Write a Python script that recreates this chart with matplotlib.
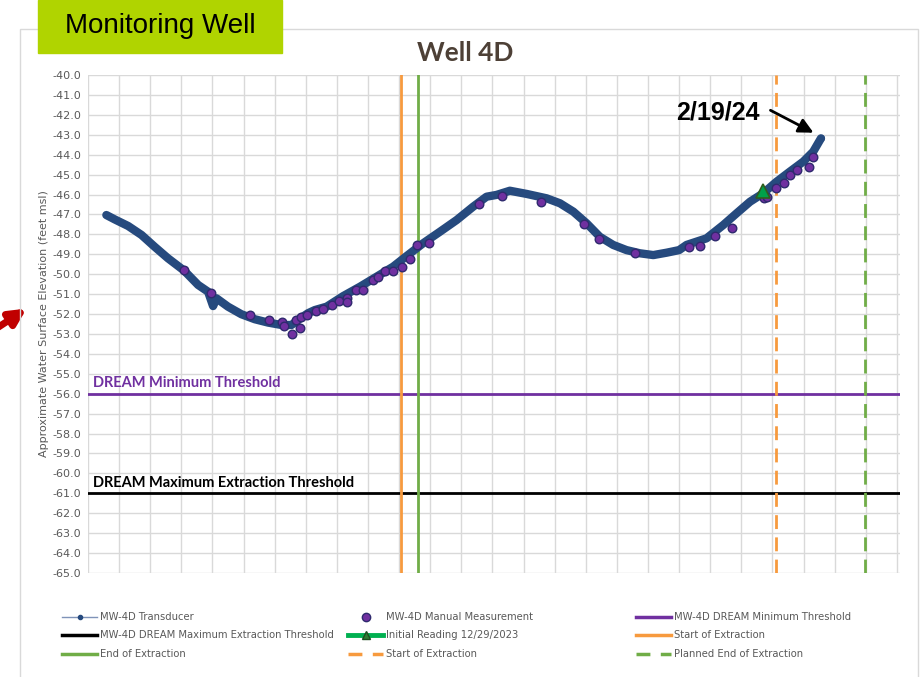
import matplotlib
matplotlib.use('Agg')
import matplotlib.pyplot as plt
from matplotlib.lines import Line2D
from matplotlib.patches import Rectangle

# months since start of record (x) and elevation in feet msl (y)
trans_x = [0.59, 0.86, 1.29, 1.72, 2.14, 2.57, 3.09, 3.54, 3.86, 4.02, 4.13, 4.50,
           4.93, 5.36, 5.79, 6.22, 6.54, 6.75, 7.07, 7.29, 7.67, 8.20, 8.74, 9.27,
           9.81, 10.24, 10.77, 11.31, 11.85, 12.38, 12.81, 13.13, 13.56, 14.10,
           14.74, 15.17, 15.60, 16.03, 16.45, 16.88, 17.31, 17.74, 18.17, 18.60,
           19.00, 19.24, 19.88, 20.42, 20.85, 21.28, 21.70, 22.13, 22.56, 22.99,
           23.31, 23.56]
trans_y = [-47.03, -47.25, -47.58, -48.03, -48.62, -49.20, -49.82, -50.54, -50.88,
           -51.60, -51.21, -51.63, -52.01, -52.26, -52.43, -52.55, -52.55, -52.30,
           -51.96, -51.80, -51.63, -51.10, -50.63, -50.13, -49.62, -49.09, -48.45,
           -47.87, -47.28, -46.61, -46.11, -46.02, -45.81, -45.97, -46.19, -46.44,
           -46.86, -47.45, -48.12, -48.53, -48.79, -48.95, -49.04, -48.92, -48.79,
           -48.53, -48.20, -47.53, -46.94, -46.36, -45.94, -45.36, -44.85, -44.35,
           -43.85, -43.18]

manual_x = [3.09, 3.95, 5.20, 5.81, 6.22, 6.30, 6.56, 6.70, 6.81, 6.86, 7.05, 7.32,
            7.56, 7.83, 8.07, 8.31, 8.31, 8.63, 8.84, 9.16, 9.33, 9.56, 9.81, 10.08,
            10.34, 10.58, 10.96, 12.57, 13.32, 14.56, 15.94, 16.42, 17.58, 19.31,
            19.67, 20.15, 20.71, 21.73, 21.83, 22.11, 22.37, 22.56, 22.80, 23.17,
            23.31]
manual_y = [-49.77, -50.96, -52.05, -52.30, -52.41, -52.60, -53.02, -52.30, -52.68,
            -52.16, -52.05, -51.85, -51.75, -51.56, -51.35, -51.18, -51.38, -50.81,
            -50.81, -50.31, -50.16, -49.86, -49.82, -49.62, -49.24, -48.53, -48.42,
            -46.49, -46.07, -46.36, -47.48, -48.25, -48.95, -48.65, -48.57, -48.07,
            -47.67, -46.19, -46.14, -45.69, -45.41, -45.02, -44.77, -44.60, -44.10]

initial_x, initial_y = 21.70, -45.82
min_threshold = -56.0
max_threshold = -61.0
start_extraction = 10.05
end_extraction = 10.60
start_extraction_2 = 22.11
planned_end = 24.97

BLUE = '#264a7e'
PURPLE = '#7030a0'
ORANGE = '#f79a3e'
GREEN = '#70ad47'
GRAY = '#595959'

fig = plt.figure(figsize=(9.23, 6.77), dpi=100)
W, H = 923, 677


def fx(px):
    return px / W


def fy(py):
    return 1 - py / H


# chart frame and header box
fig.patches.append(Rectangle((fx(20), fy(700)), fx(898), 671 / H,
                             transform=fig.transFigure, fill=False,
                             edgecolor='#d9d9d9', lw=1))
fig.patches.append(Rectangle((fx(38), fy(53)), fx(244), 53 / H,
                             transform=fig.transFigure, color='#b0d400', zorder=5))
fig.text(fx(160), fy(26), 'Monitoring Well', fontsize=20, family='Liberation Sans',
         ha='center', va='center', zorder=6)

ax = fig.add_axes([fx(88), fy(573), fx(900 - 88), (573 - 75) / H])
ax.set_xlim(0, 26.1)
ax.set_ylim(-65, -40)
ax.set_yticks(range(-65, -39))
ax.set_yticklabels(['%.1f' % v for v in range(-65, -39)])
ax.set_xticks(range(0, 27))
ax.tick_params(axis='x', length=0, labelbottom=False)
ax.tick_params(axis='y', length=0, labelsize=8, labelcolor=GRAY, pad=5)
ax.grid(True, color='#d9d9d9', lw=1)
for s in ax.spines.values():
    s.set_visible(False)
ax.set_axisbelow(True)
ax.set_ylabel('Approximate Water Surface Elevation (feet msl)', fontsize=8,
              color=GRAY, labelpad=2)

ax.axhline(min_threshold, color=PURPLE, lw=2)
ax.axhline(max_threshold, color='black', lw=2)
ax.axvline(start_extraction, color=ORANGE, lw=2)
ax.axvline(end_extraction, color=GREEN, lw=2)
ax.axvline(start_extraction_2, color=ORANGE, lw=2, dashes=(5, 3))
ax.axvline(planned_end, color=GREEN, lw=2, dashes=(5, 3))

ax.plot(trans_x, trans_y, color=BLUE, lw=6, solid_capstyle='round',
        solid_joinstyle='round', zorder=3)
ax.plot(trans_x[-1], trans_y[-1], 'o', color=BLUE, ms=4, zorder=3)
ax.scatter(manual_x, manual_y, s=38, color=PURPLE, edgecolor='#2f2a6e', lw=1,
           zorder=4)
ax.plot(initial_x, initial_y, '^', ms=10, color='#00a04a', mec='#2f5e1e',
        mew=1.2, zorder=5)

ax.text(0.15, min_threshold + 0.18, 'DREAM Minimum Threshold', color=PURPLE,
        fontsize=10.5, fontweight='bold', family='Lato', va='bottom')
ax.text(0.15, max_threshold + 0.18, 'DREAM Maximum Extraction Threshold',
        color='black', fontsize=10.5, fontweight='bold', family='Lato', va='bottom')

fig.text(fx(465), fy(53), 'Well 4D', fontsize=19, fontweight='bold',
         family='Lato', color='#4d4036', ha='center', va='center')

# date callout
fig.text(fx(718), fy(113), '2/19/24', fontsize=18, fontweight='bold',
         family='Liberation Sans', ha='center', va='center')
ax.annotate('', xy=(fx(816), fy(134)), xytext=(fx(768), fy(109)),
            xycoords='figure fraction', textcoords='figure fraction',
            arrowprops=dict(arrowstyle='-|>', lw=2, color='black',
                            mutation_scale=22))
# red pointer at the left margin
ax.annotate('', xy=(fx(29), fy(307)), xytext=(fx(-6), fy(330)),
            xycoords='figure fraction', textcoords='figure fraction',
            arrowprops=dict(arrowstyle='-|>', lw=5, color='#c00000',
                            mutation_scale=24), annotation_clip=False)

# legend, three columns
h_trans = Line2D([], [], color='#7f93b8', lw=1, marker='o', ms=3,
                 mfc=BLUE, mec=BLUE)
h_manual = Line2D([], [], ls='none', marker='o', ms=6, mfc=PURPLE, mec='#2f2a6e')
h_min = Line2D([], [], color=PURPLE, lw=2.5)
h_max = Line2D([], [], color='black', lw=2.5)
h_init = Line2D([], [], color='#00b050', lw=3.5, marker='^', ms=6,
                mfc='#2f7d32', mec='#1f4d1f')
h_start = Line2D([], [], color=ORANGE, lw=2.5)
h_end = Line2D([], [], color=GREEN, lw=2.5)
h_start2 = Line2D([], [], color=ORANGE, lw=2.5, dashes=(4, 3))
h_planned = Line2D([], [], color=GREEN, lw=2.5, dashes=(4, 3))

columns = [
    (62, [h_trans, h_max, h_end],
     ['MW-4D Transducer', 'MW-4D DREAM Maximum Extraction Threshold',
      'End of Extraction']),
    (348, [h_manual, h_init, h_start2],
     ['MW-4D Manual Measurement', 'Initial Reading 12/29/2023',
      'Start of Extraction']),
    (636, [h_min, h_start, h_planned],
     ['MW-4D DREAM Minimum Threshold', 'Start of Extraction',
      'Planned End of Extraction']),
]
for x0, hs, ls in columns:
    leg = fig.legend(hs, ls, loc='upper left', bbox_to_anchor=(fx(x0), fy(612)),
                     frameon=False, fontsize=7.2, handlelength=3.5,
                     handletextpad=0.35, labelspacing=0.85, numpoints=1,
                     borderaxespad=0, borderpad=0)
    for t in leg.get_texts():
        t.set_color(GRAY)

fig.savefig('out.png', dpi=100)
